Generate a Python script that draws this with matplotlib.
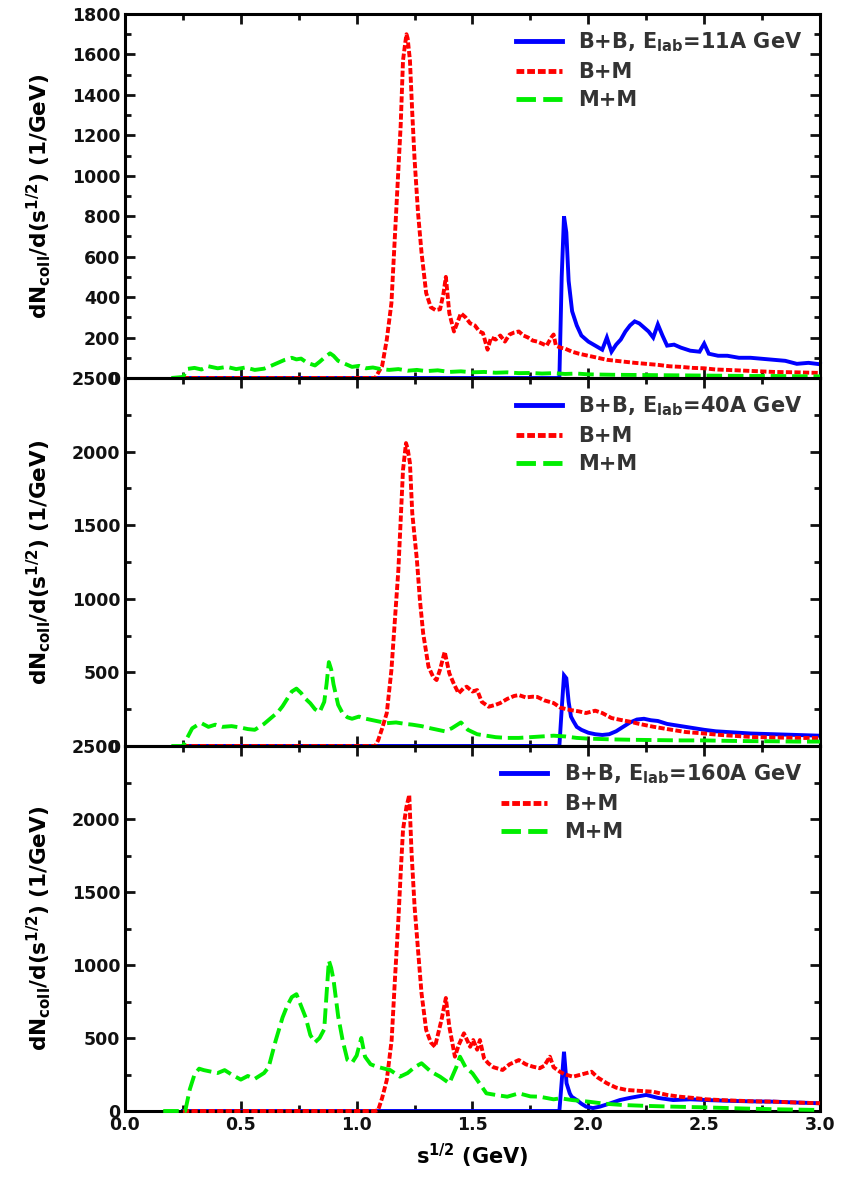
import matplotlib
matplotlib.use("Agg")
import matplotlib.pyplot as plt
from matplotlib.ticker import MultipleLocator

plt.rcParams['font.family'] = ['DejaVu Sans']
plt.rcParams['font.weight'] = 'bold'
plt.rcParams['mathtext.default'] = 'bf'

# ---------------- data (x in GeV, y in 1/GeV) ----------------
energies = ["11A", "40A", "160A"]
series_names = ["B+B", "B+M", "M+M"]
ymax = [1800, 2500, 2500]
ymajor = [200, 500, 500]
yminor = [100, 250, 250]

# Panel 1: 11A GeV
BB_11 = [(0.25,0),(1.875,0),(1.885,500),(1.895,800),(1.905,720),(1.915,480),(1.93,330),(1.95,260),
         (1.97,210),(2.00,180),(2.03,160),(2.06,140),(2.08,200),(2.10,130),(2.12,165),(2.14,190),
         (2.16,230),(2.18,260),(2.20,280),(2.22,270),(2.24,250),(2.26,230),(2.28,200),(2.30,265),
         (2.32,210),(2.34,160),(2.37,165),(2.40,150),(2.44,135),(2.48,130),(2.50,170),(2.52,120),
         (2.56,110),(2.60,110),(2.65,100),(2.70,100),(2.75,95),(2.80,90),(2.85,85),(2.90,70),
         (2.95,75),(3.00,68)]
BM_11 = [(0.25,0),(1.08,0),(1.10,40),(1.11,60),(1.13,190),(1.15,370),(1.165,700),(1.18,1030),
         (1.19,1250),(1.20,1570),(1.21,1660),(1.215,1700),(1.22,1680),(1.23,1570),(1.24,1310),
         (1.25,1080),(1.265,815),(1.28,620),(1.30,420),(1.32,350),(1.34,336),(1.36,340),(1.375,420),
         (1.385,500),(1.40,320),(1.42,230),(1.45,320),(1.47,300),(1.49,270),(1.51,260),(1.53,230),
         (1.545,222),(1.565,140),(1.58,200),(1.60,190),(1.62,210),(1.64,180),(1.66,215),(1.68,225),
         (1.70,230),(1.72,210),(1.74,200),(1.76,185),(1.78,180),(1.80,170),(1.82,160),(1.84,200),
         (1.85,215),(1.86,160),(1.88,150),(1.90,145),(1.93,130),(1.96,120),(2.00,110),(2.04,100),
         (2.08,90),(2.12,85),(2.16,80),(2.20,75),(2.25,70),(2.30,65),(2.35,58),(2.40,55),(2.45,50),
         (2.50,48),(2.55,42),(2.60,40),(2.70,35),(2.80,30),(2.90,28),(3.00,25)]
MM_11 = [(0.20,0),(0.25,5),(0.27,45),(0.30,50),(0.33,42),(0.36,58),(0.40,48),(0.44,55),(0.48,44),
         (0.52,52),(0.56,40),(0.60,46),(0.63,60),(0.66,75),(0.69,90),(0.72,100),(0.74,92),(0.76,96),
         (0.78,80),(0.80,70),(0.82,62),(0.84,80),(0.86,100),(0.885,122),(0.90,110),(0.92,85),
         (0.95,70),(0.98,55),(1.01,60),(1.04,48),(1.07,52),(1.10,45),(1.14,40),(1.18,44),(1.22,36),
         (1.26,40),(1.30,34),(1.35,38),(1.40,30),(1.45,33),(1.50,28),(1.55,30),(1.60,26),(1.65,28),
         (1.70,24),(1.75,25),(1.80,22),(1.85,24),(1.90,20),(1.95,22),(2.00,18),(2.10,16),(2.20,15),
         (2.30,14),(2.40,13),(2.50,12),(2.60,11),(2.70,10),(2.80,10),(2.90,9),(3.00,8)]

# Panel 2: 40A GeV
BB_40 = [(0.25,0),(1.875,0),(1.885,250),(1.895,480),(1.905,460),(1.915,300),(1.925,200),(1.935,170),
         (1.95,130),(1.97,110),(2.00,90),(2.03,80),(2.06,75),(2.09,80),(2.12,100),(2.15,130),
         (2.18,160),(2.21,180),(2.24,185),(2.27,175),(2.30,170),(2.34,150),(2.38,140),(2.42,130),
         (2.46,120),(2.50,110),(2.55,100),(2.60,95),(2.65,90),(2.70,85),(2.80,80),(2.90,75),(3.00,70)]
BM_40 = [(0.25,0),(1.08,0),(1.093,40),(1.11,120),(1.13,224),(1.15,516),(1.165,856),(1.18,1196),
         (1.19,1535),(1.20,1875),(1.213,2058),(1.22,2020),(1.23,1921),(1.24,1581),(1.26,1264),
         (1.273,992),(1.287,766),(1.31,539),(1.33,470),(1.345,448),(1.36,520),(1.38,640),(1.40,494),
         (1.42,420),(1.44,358),(1.46,390),(1.475,403),(1.50,370),(1.52,380),(1.54,300),(1.57,267),
         (1.60,280),(1.62,292),(1.65,320),(1.68,340),(1.70,346),(1.73,330),(1.76,335),(1.78,333),
         (1.81,310),(1.85,292),(1.88,260),(1.92,245),(1.96,235),(1.99,224),(2.03,240),(2.06,224),
         (2.10,190),(2.14,177),(2.18,165),(2.22,150),(2.28,131),(2.34,115),(2.42,95),(2.50,85),
         (2.57,75),(2.64,68),(2.71,61),(2.80,58),(2.90,55),(3.00,54)]
MM_40 = [(0.20,0),(0.25,0),(0.27,60),(0.29,120),(0.31,140),(0.33,155),(0.36,130),(0.39,145),
         (0.42,130),(0.46,135),(0.50,125),(0.53,115),(0.56,110),(0.60,150),(0.63,190),(0.66,230),
         (0.68,270),(0.70,320),(0.72,370),(0.74,390),(0.76,360),(0.78,320),(0.80,290),(0.82,250),
         (0.84,230),(0.86,300),(0.87,420),(0.88,570),(0.89,520),(0.90,420),(0.92,280),(0.94,220),
         (0.96,195),(0.98,185),(1.01,200),(1.04,185),(1.07,175),(1.10,165),(1.13,155),(1.17,160),
         (1.21,150),(1.24,145),(1.28,135),(1.32,120),(1.35,110),(1.38,100),(1.41,120),(1.45,160),
         (1.48,110),(1.52,80),(1.56,70),(1.60,60),(1.65,55),(1.70,55),(1.75,60),(1.80,65),(1.85,70),
         (1.90,65),(1.95,55),(2.00,50),(2.10,45),(2.20,42),(2.30,40),(2.40,38),(2.50,38),(2.60,35),
         (2.70,33),(2.80,32),(2.90,30),(3.00,30)]

# Panel 3: 160A GeV
BB_160 = [(0.25,0),(1.875,0),(1.885,200),(1.895,406),(1.906,190),(1.92,120),(1.928,98),(1.95,75),
          (1.97,50),(1.99,30),(2.02,20),(2.05,30),(2.09,50),(2.136,75),(2.18,90),(2.25,110),
          (2.30,90),(2.366,75),(2.44,80),(2.51,75),(2.60,70),(2.70,66),(2.80,64),(2.90,58),(3.00,53)]
BM_160 = [(0.25,0),(1.08,0),(1.093,7),(1.11,90),(1.13,212),(1.151,486),(1.165,897),(1.18,1308),
          (1.19,1630),(1.20,1925),(1.215,2084),(1.227,2164),(1.237,1767),(1.25,1400),(1.266,1080),
          (1.28,806),(1.30,555),(1.32,470),(1.338,440),(1.366,623),(1.385,774),(1.40,577),
          (1.424,372),(1.44,450),(1.463,532),(1.49,440),(1.503,486),(1.52,420),(1.532,486),
          (1.55,360),(1.568,327),(1.59,300),(1.63,281),(1.66,320),(1.70,349),(1.73,320),(1.76,304),
          (1.79,293),(1.81,310),(1.834,372),(1.85,300),(1.877,269),(1.90,250),(1.934,235),(1.97,250),
          (2.014,269),(2.04,230),(2.08,190),(2.12,160),(2.165,144),(2.22,138),(2.28,132),(2.34,110),
          (2.394,98),(2.45,90),(2.51,80),(2.57,75),(2.65,70),(2.72,66),(2.80,64),(2.90,58),(3.00,53)]
MM_160 = [(0.165,0),(0.26,0),(0.28,150),(0.30,250),(0.32,290),(0.34,280),(0.37,270),(0.40,260),
          (0.43,280),(0.46,250),(0.50,215),(0.53,240),(0.56,220),(0.60,260),(0.62,300),(0.65,480),
          (0.68,640),(0.70,720),(0.72,780),(0.74,800),(0.76,720),(0.78,640),(0.80,520),(0.82,470),
          (0.84,500),(0.86,560),(0.87,800),(0.88,1030),(0.89,980),(0.90,900),(0.92,650),(0.94,480),
          (0.96,350),(0.98,330),(1.00,380),(1.02,500),(1.036,372),(1.06,320),(1.086,304),(1.12,290),
          (1.144,281),(1.187,235),(1.22,260),(1.25,300),(1.28,327),(1.32,270),(1.36,235),(1.40,190),
          (1.43,300),(1.446,372),(1.47,300),(1.50,258),(1.53,190),(1.56,121),(1.60,110),(1.65,98),
          (1.70,121),(1.75,100),(1.79,98),(1.85,80),(1.88,87),(1.93,75),(2.00,64),(2.07,50),
          (2.15,41),(2.25,35),(2.36,30),(2.50,25),(2.65,18),(2.80,12),(3.00,7)]

panels = [(BB_11, BM_11, MM_11), (BB_40, BM_40, MM_40), (BB_160, BM_160, MM_160)]

# ---------------- figure ----------------
fig = plt.figure(figsize=(8.42, 11.9), dpi=100)
left, width = 125/842, 695/842
boxes = [(14, 378), (378, 746), (746, 1111)]

colors = ['#0000ff', '#ff0000', '#00ee00']
styles = ['-', (0, (1.6, 0.6)), (0, (4, 1.5))]
lw = 2.8

for i, (series, (top, bot)) in enumerate(zip(panels, boxes)):
    ax = fig.add_axes([left, 1 - bot/1190, width, (bot - top)/1190])
    for j, (pts, c, ls) in enumerate(zip(series, colors, styles)):
        xs = [p[0] for p in pts]
        ys = [p[1] for p in pts]
        if j == 0:
            lab = r"B+B, E$_{lab}$=" + energies[i] + " GeV"
        else:
            lab = series_names[j]
        ax.plot(xs, ys, color=c, ls=ls, lw=lw, label=lab, zorder=2 + j,
                solid_joinstyle='miter', clip_on=False)
    ax.set_xlim(0, 3.0)
    ax.set_ylim(0, ymax[i])
    ax.xaxis.set_major_locator(MultipleLocator(0.5))
    ax.xaxis.set_minor_locator(MultipleLocator(0.25))
    ax.yaxis.set_major_locator(MultipleLocator(ymajor[i]))
    ax.yaxis.set_minor_locator(MultipleLocator(yminor[i]))
    ax.tick_params(which='both', direction='in', top=True, right=True, width=2,
                   labelsize=12.5, colors='#111111')
    ax.tick_params(which='major', length=7)
    ax.tick_params(which='minor', length=4)
    for s in ax.spines.values():
        s.set_linewidth(2.2)
    if i < 2:
        ax.tick_params(labelbottom=False)
    else:
        ax.set_xticklabels([f"{v:.1f}" for v in ax.get_xticks()])
        ax.set_xlabel(r"s$^{1/2}$ (GeV)", fontsize=15, fontweight='bold', labelpad=6)
    ax.set_ylabel(r"dN$_{coll}$/d(s$^{1/2}$) (1/GeV)", fontsize=15.5, fontweight='bold')
    ax.yaxis.set_label_coords(-0.103, 0.5)
    ax.set_xlim(0, 3.0)
    leg = ax.legend(loc='upper right', bbox_to_anchor=(0.975, 0.955), frameon=False,
                    fontsize=15, handlelength=2.2, handletextpad=0.8, labelspacing=0.38,
                    borderpad=0, borderaxespad=0)
    for line in leg.get_lines():
        line.set_linewidth(3.5)
    for t in leg.get_texts():
        t.set_color('#333333')
    ax.patch.set_alpha(0)

fig.savefig("out.png", dpi=100)
